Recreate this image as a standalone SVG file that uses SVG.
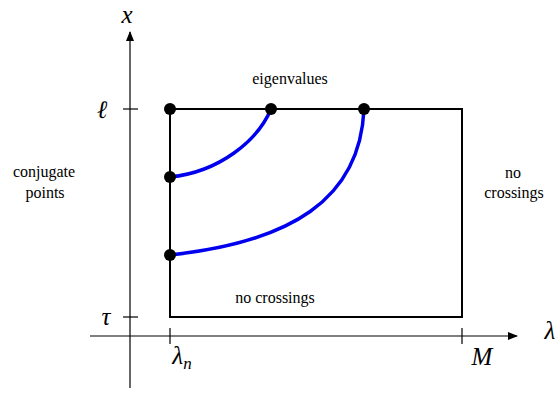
<svg xmlns="http://www.w3.org/2000/svg" width="557" height="395" viewBox="0 0 557 395">
<style>
.lbl{font-family:"Liberation Serif","Times New Roman",serif;font-size:16px;fill:#000;text-anchor:middle}
.math{font-family:"Liberation Serif","Times New Roman",serif;font-style:italic;font-size:25px;fill:#000;text-anchor:middle}
.ax{stroke:#000;stroke-width:1.2;fill:none}
.box{stroke:#000;stroke-width:2;fill:none}
.curve{stroke:#0000ee;stroke-width:3.5;fill:none}
.dot{fill:#000}
</style>
<defs>
<marker id="arr" markerWidth="10" markerHeight="8" refX="9" refY="4" orient="auto" markerUnits="userSpaceOnUse">
<path d="M0,0 L10,4 L0,8 Z" fill="#000"/>
</marker>
</defs>
<g id="axes">
<line class="ax" x1="130" y1="388" x2="130" y2="32" marker-end="url(#arr)"/>
<line class="ax" x1="90" y1="336" x2="517" y2="336" marker-end="url(#arr)"/>
<line class="ax" x1="123" y1="109" x2="138" y2="109"/>
<line class="ax" x1="123" y1="317" x2="138" y2="317"/>
<line class="ax" x1="170" y1="328" x2="170" y2="344"/>
<line class="ax" x1="462" y1="328" x2="462" y2="344"/>
</g>
<g id="labels-axes">
<text class="math" x="127" y="23" font-size="24">x</text>
<text class="math" x="102" y="118">ℓ</text>
<text class="math" x="106" y="325">τ</text>
<text class="math" x="182" y="364">λ<tspan font-size="17" dy="5">n</tspan></text>
<text class="math" x="482" y="365">M</text>
<text class="math" x="550" y="339">λ</text>
</g>
<g id="region">
<rect class="box" x="170" y="109" width="292" height="208"/>
</g>
<g id="connectors">
<path class="curve" d="M170,177 C220,172 258,140 271,109"/>
<path class="curve" d="M170,255 C290,242 360,200 364,109"/>
</g>
<g id="nodes">
<circle id="n1" class="dot" cx="170" cy="109" r="6"/>
<circle id="n2" class="dot" cx="271" cy="109" r="6"/>
<circle id="n3" class="dot" cx="364" cy="109" r="6"/>
<circle id="n4" class="dot" cx="170" cy="177" r="6"/>
<circle id="n5" class="dot" cx="170" cy="255" r="6"/>
</g>
<g id="text">
<text class="lbl" x="290" y="84">eigenvalues</text>
<text class="lbl" x="44" y="177">conjugate</text>
<text class="lbl" x="45" y="198">points</text>
<text class="lbl" x="513" y="178">no</text>
<text class="lbl" x="514" y="198">crossings</text>
<text class="lbl" x="275" y="303">no crossings</text>
</g>
</svg>
